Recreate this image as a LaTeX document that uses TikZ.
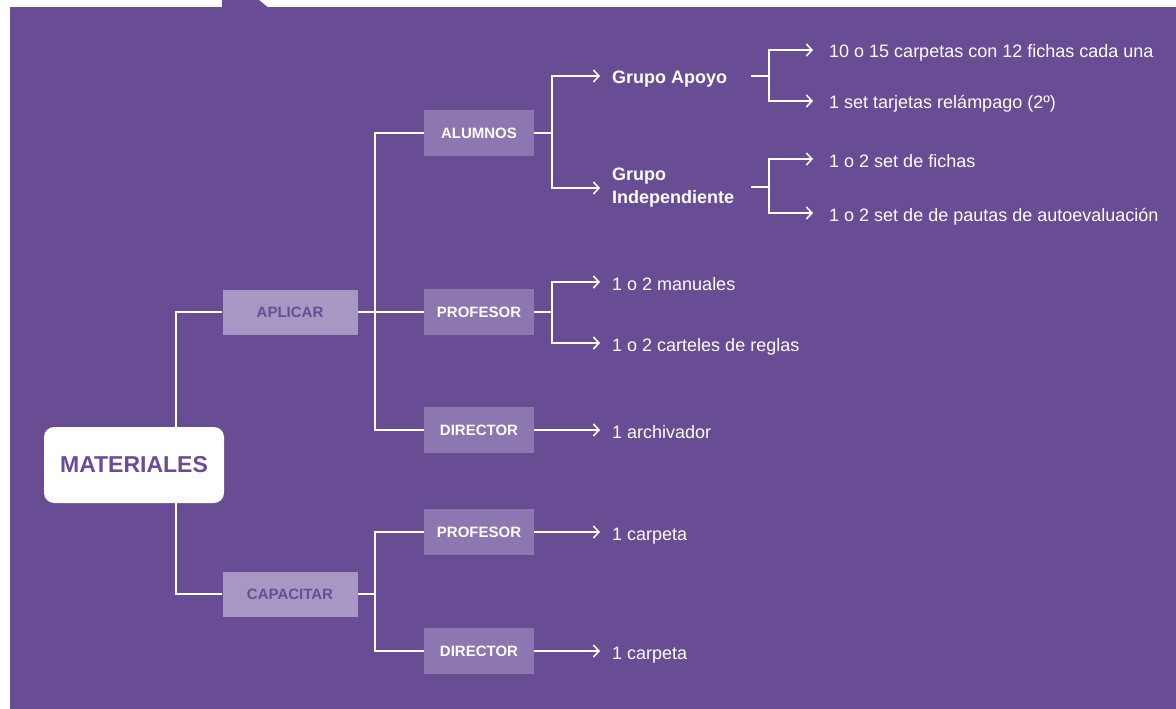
\documentclass[tikz,border=0pt]{standalone}
\usepackage{fontspec}
\setmainfont{Liberation Sans}
\usetikzlibrary{arrows.meta}
\definecolor{bgp}{HTML}{684C94}
\definecolor{lightp}{HTML}{A797C5}
\definecolor{midp}{HTML}{8C77B0}
\tikzset{
  conn/.style={draw=white, line width=2.6pt},
  arr/.style={conn, -{Straight Barb[length=5.5pt,width=12pt,line width=1.6pt]}},
  rootbox/.style={fill=white, rounded corners=10pt, minimum width=180pt, minimum height=76pt,
    inner sep=0pt, text=bgp, font=\bfseries\fontsize{23}{26}\selectfont},
  lightbox/.style={fill=lightp, minimum width=135pt, minimum height=45pt, inner sep=0pt,
    text=bgp, font=\bfseries\fontsize{15}{18}\selectfont},
  midbox/.style={fill=midp, minimum width=110pt, minimum height=46pt, inner sep=0pt,
    text=white, font=\bfseries\fontsize{15}{18}\selectfont},
  grp/.style={anchor=west, inner sep=0pt, text=white, align=left,
    font=\bfseries\fontsize{18}{23}\selectfont},
  item/.style={anchor=west, inner sep=0pt, text=white, text height=16pt, text depth=0pt,
    font=\fontsize{18}{21}\selectfont},
}
\begin{document}
\begin{tikzpicture}[x=1pt,y=-1pt]
\useasboundingbox (0,0) rectangle (1176,709);
\fill[white] (0,0) rectangle (1176,709);
\fill[bgp] (10,7) rectangle (1176,709);
\fill[bgp] (222,0) -- (259,0) -- (268,7.5) -- (222,7.5) -- cycle;

% coordinates for branch points
\coordinate (mx) at (176,0);
\coordinate (b1) at (375,312);
\coordinate (b2) at (375,594);
\coordinate (b3) at (552,133);
\coordinate (b5) at (552,312);
\coordinate (s4) at (751,76);
\coordinate (b4) at (769,76);
\coordinate (s6) at (751,187);
\coordinate (b6) at (769,187);

% nodes
\node[rootbox] (mat) at (134,465) {MATERIALES};
\node[lightbox] (apl) at (290,312) {APLICAR};
\node[lightbox] (cap) at (290,594) {CAPACITAR};
\node[midbox] (alu) at (479,133) {ALUMNOS};
\node[midbox] (pro1) at (479,312) {PROFESOR};
\node[midbox] (dir1) at (479,430) {DIRECTOR};
\node[midbox] (pro2) at (479,532) {PROFESOR};
\node[midbox] (dir2) at (479,651) {DIRECTOR};

\node[grp, text height=15pt, text depth=0pt] (apo) at (612,76) {Grupo Apoyo};
\node[grp] (ind) at (612,188) {Grupo\\Independiente};

\node[item] (i1) at (829,50) {10 o 15 carpetas con 12 fichas cada una};
\node[item] (i2) at (829,101) {1 set tarjetas relámpago (2º)};
\node[item] (i3) at (829,159) {1 o 2 set de fichas};
\node[item] (i4) at (829,213) {1 o 2 set de de pautas de autoevaluación};
\node[item] (i5) at (612,282) {1 o 2 manuales};
\node[item] (i6) at (612,343) {1 o 2 carteles de reglas};
\node[item] (i7) at (612,430) {1 archivador};
\node[item] (i8) at (612,532) {1 carpeta};
\node[item] (i9) at (612,651) {1 carpeta};

% level 0
\draw[conn] (apl.west) -| (mat.north -| mx);
\draw[conn] (cap.west) -| (mat.south -| mx);
% level 1
\draw[conn] (apl.east) -- (pro1.west);
\draw[conn] (alu.west) -| (b1) |- (dir1.west);
\draw[conn] (cap.east) -- (b2);
\draw[conn] (pro2.west) -| (b2) |- (dir2.west);
% level 2
\draw[conn] (alu.east) -- (b3);
\draw[arr] (b3) |- ([xshift=-12pt]apo.west);
\draw[arr] (b3) |- ([xshift=-12pt]ind.west);
\draw[conn] (pro1.east) -- (b5);
\draw[arr] (b5) |- ([xshift=-12pt]i5.west);
\draw[arr] (b5) |- ([xshift=-12pt]i6.west);
\draw[arr] (dir1.east) -- ([xshift=-12pt]i7.west);
\draw[arr] (pro2.east) -- ([xshift=-12pt]i8.west);
\draw[arr] (dir2.east) -- ([xshift=-12pt]i9.west);
% level 3
\draw[conn] (s4) -- (b4);
\draw[arr] (b4) |- ([xshift=-16pt]i1.west);
\draw[arr] (b4) |- ([xshift=-16pt]i2.west);
\draw[conn] (s6) -- (b6);
\draw[arr] (b6) |- ([xshift=-16pt]i3.west);
\draw[arr] (b6) |- ([xshift=-16pt]i4.west);
\end{tikzpicture}
\end{document}
